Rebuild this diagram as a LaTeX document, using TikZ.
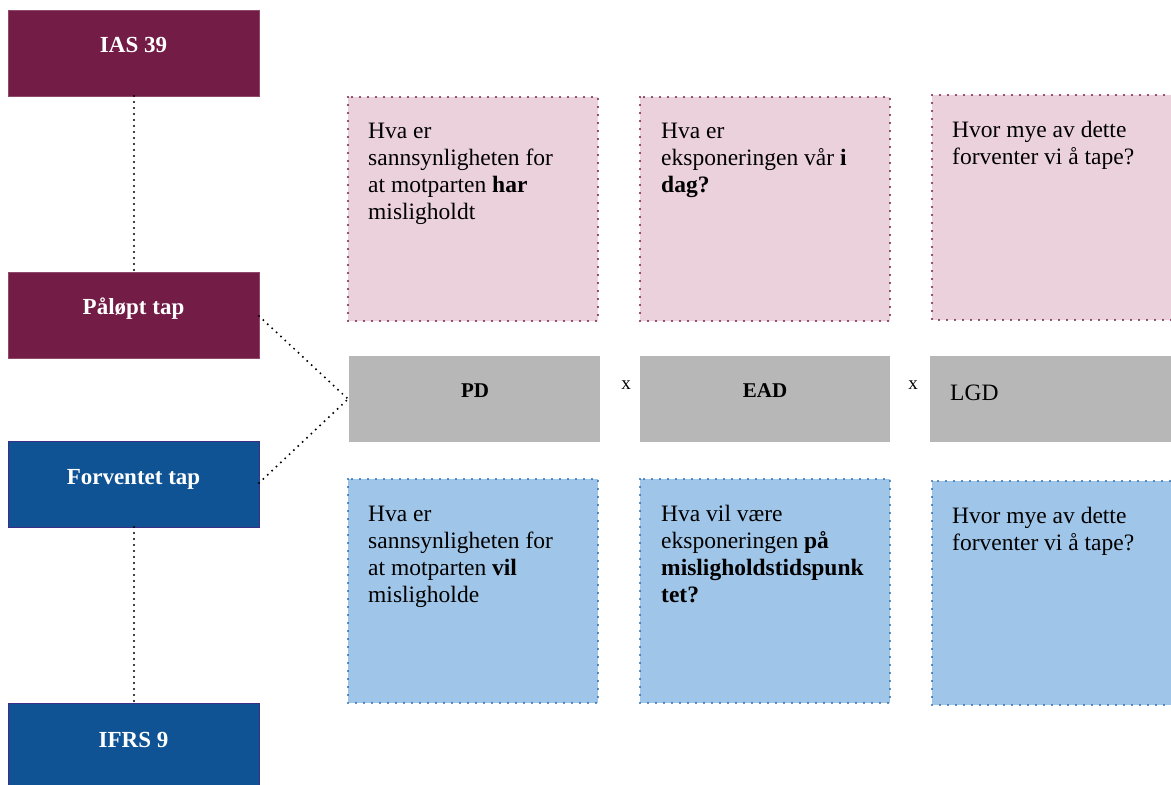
\documentclass[tikz,border=0pt]{standalone}
\usepackage{fontspec}
\setmainfont{LiberationSerif}[Extension=.ttf, UprightFont=*-Regular, BoldFont=*-Bold, ItalicFont=*-Italic, BoldItalicFont=*-BoldItalic]
\definecolor{maroon}{HTML}{731C46}
\definecolor{navy}{HTML}{0F5394}
\definecolor{navyedge}{HTML}{3B2F88}
\definecolor{pinkfill}{HTML}{EBD1DC}
\definecolor{bluefill}{HTML}{9FC5E8}
\definecolor{greyfill}{HTML}{B7B7B7}
\definecolor{bluedot}{HTML}{2B6CB0}
\tikzset{
  dotline/.style={line width=2.2pt, line cap=round, dash pattern=on 0pt off 6pt, black},
  head/.style={draw=#1!80!white, fill=#1, line width=0.8pt},
  headtext/.style={anchor=base, inner sep=0pt, text=white, font=\fontsize{23}{26}\selectfont\bfseries},
  qpink/.style={fill=pinkfill, draw=maroon, line width=2.2pt, line cap=round, dash pattern=on 0pt off 8pt},
  qblue/.style={fill=bluefill, draw=bluedot, line width=2.2pt, line cap=round, dash pattern=on 0pt off 8pt},
  factor/.style={fill=greyfill},
  factortext/.style={anchor=base, inner sep=0pt, font=\fontsize{21}{24}\selectfont\bfseries},
  qtext/.style={anchor=north west, inner sep=0pt, align=left, font=\fontsize{23.5}{27}\selectfont},
  times/.style={anchor=base, font=\fontsize{19}{20}\selectfont, inner sep=0pt}
}
\begin{document}
\begin{tikzpicture}[x=1pt,y=-1pt]
\path[use as bounding box] (0,0) rectangle (1171,785);

% left column: standards and loss types
\path[head=maroon] (8,10) rectangle (259,96);
\node[headtext] (ias) at (133.5,52) {IAS 39};
\path[head=maroon] (8,272) rectangle (259,358);
\node[headtext] (incurred) at (133.5,314) {Påløpt tap};
\path[head=navy, draw=navyedge] (8,441) rectangle (259,527);
\node[headtext] (expected) at (133.5,484) {Forventet tap};
\path[head=navy, draw=navyedge] (8,703) rectangle (259,790);
\node[headtext] (ifrs) at (133.5,747) {IFRS 9};

\coordinate (iasB) at (134,96);
\coordinate (incT) at (134,272);
\coordinate (incR) at (259,316);
\coordinate (expR) at (259,483);
\coordinate (expB) at (134,527);
\coordinate (ifrsT) at (134,703);

% question boxes, top row
\path[qpink] (348,97) rectangle (598,321);
\path[qpink] (640,97) rectangle (890,321);
\path[qpink] (932,95) rectangle (1175,320);
\node[qtext] (q1) at (368,123.4) {Hva er\\sannsynligheten for\\at motparten \textbf{har}\\misligholdt};
\node[qtext] (q2) at (661,123.4) {Hva er\\eksponeringen vår \textbf{i}\\\textbf{dag?}};
\node[qtext] (q3) at (952,121) {Hvor mye av dette\\forventer vi å tape?};

% factor row
\path[factor] (349,356) rectangle (600,442);
\path[factor] (640,356) rectangle (890,442);
\path[factor] (930,356) rectangle (1175,442);
\node[factortext] (pd) at (475,397) {PD};
\node[factortext] (ead) at (765,397) {EAD};
\node[anchor=base west, inner sep=0pt, font=\fontsize{23.5}{26}\selectfont] (lgd) at (950,400) {LGD};
\node[times] (x1) at (626,389) {x};
\node[times] (x2) at (913,389) {x};
\coordinate (pdL) at (348,399);

% question boxes, bottom row
\path[qblue] (348,479) rectangle (598,703);
\path[qblue] (640,479) rectangle (890,703);
\path[qblue] (932,481) rectangle (1175,705);
\node[qtext] (q4) at (368,506.4) {Hva er\\sannsynligheten for\\at motparten \textbf{vil}\\misligholde};
\node[qtext] (q5) at (661,505) {Hva vil være\\eksponeringen \textbf{på}\\\textbf{misligholdstidspunk}\\\textbf{tet?}};
\node[qtext] (q6) at (952,507) {Hvor mye av dette\\forventer vi å tape?};

% dotted connectors
\draw[dotline] (iasB) -- (incT);
\draw[dotline] (expB) -- (ifrsT);
\draw[dotline] (incR) -- (pdL);
\draw[dotline] (expR) -- (pdL);
\end{tikzpicture}
\end{document}
